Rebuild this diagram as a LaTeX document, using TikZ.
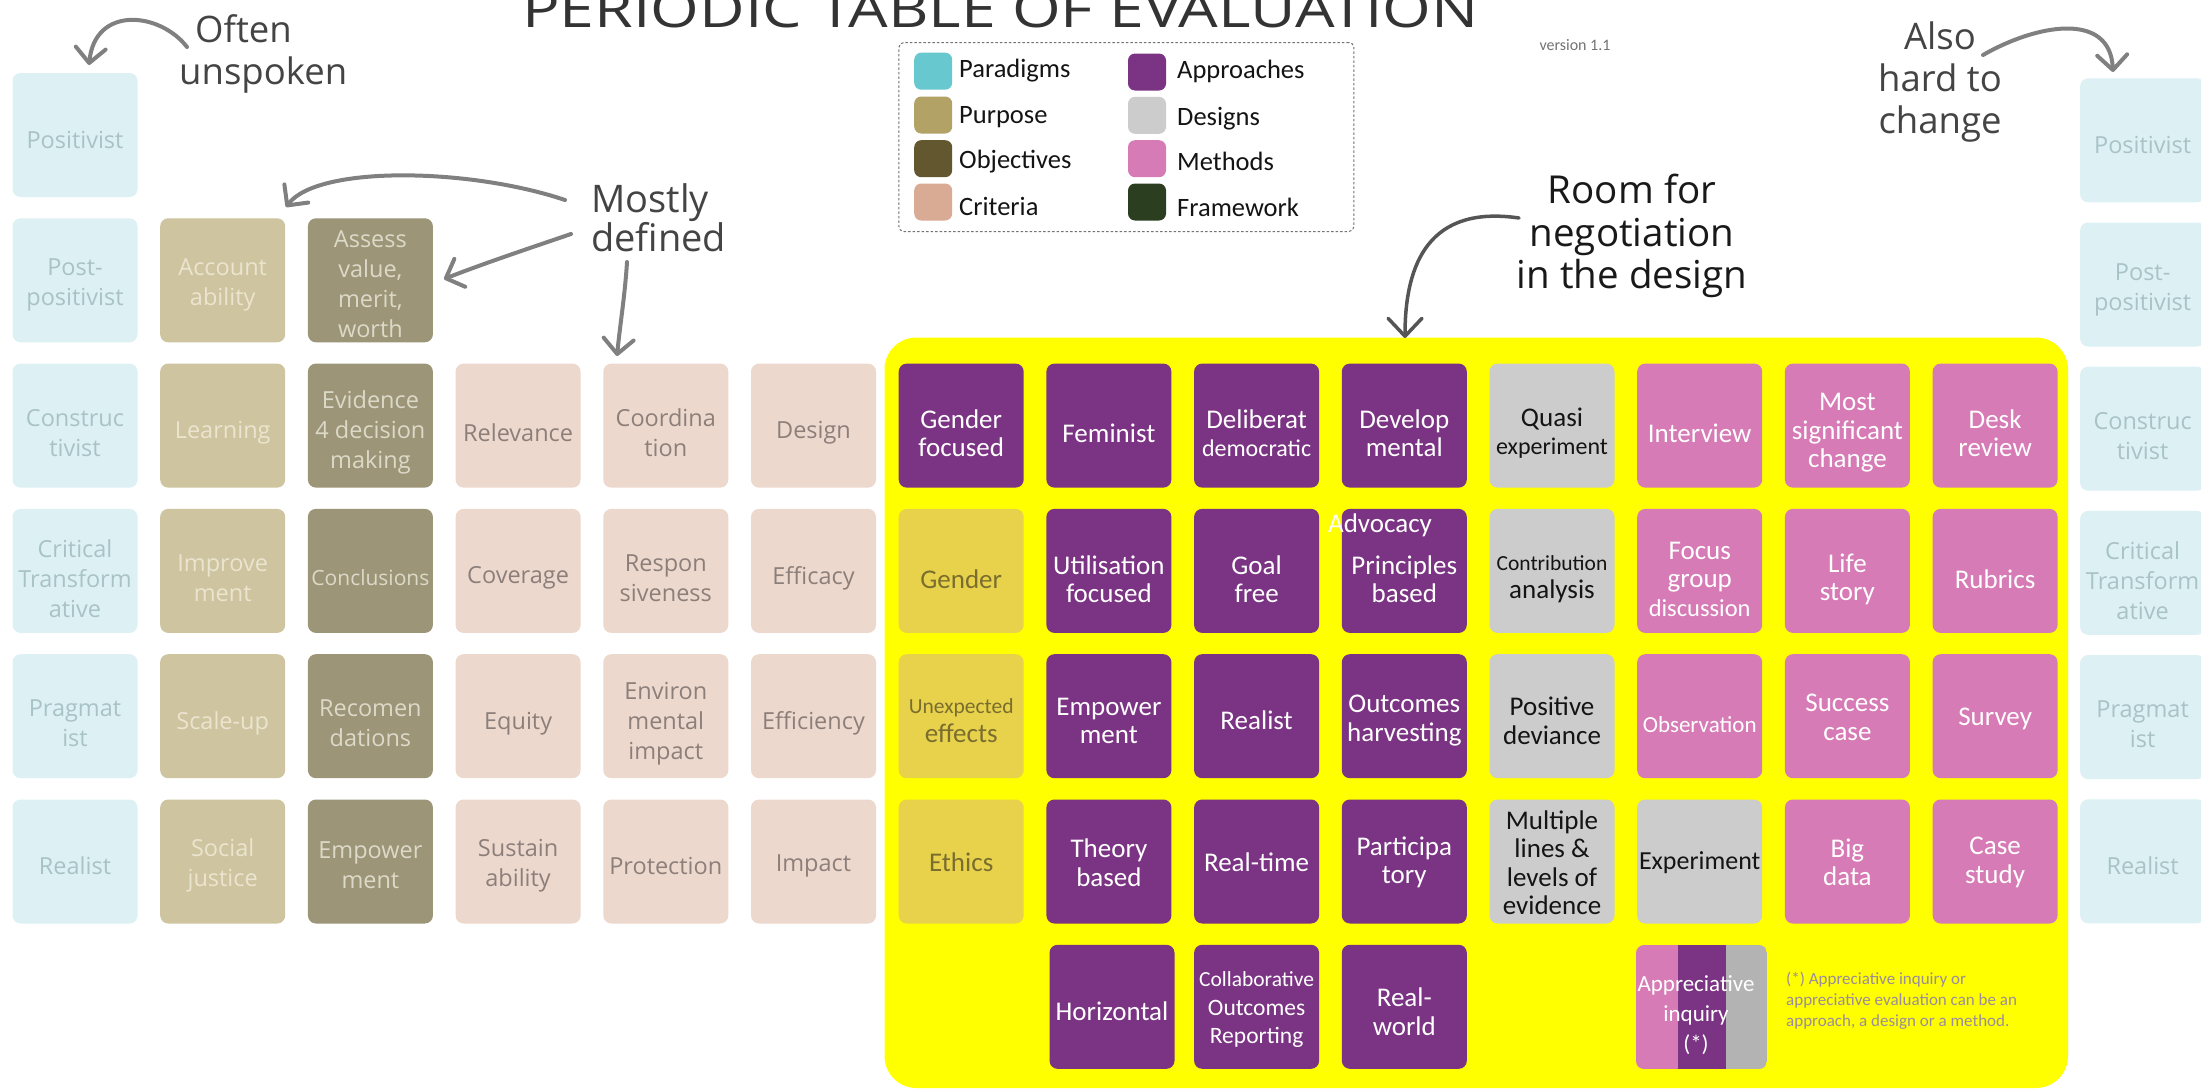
\documentclass[tikz,border=0pt]{standalone}
\usepackage{fontspec}
\usepackage{graphicx}
\setmainfont{Carlito}
\newfontfamily\osans{Open Sans}
\usetikzlibrary{arrows.meta}
\definecolor{cParaF}{HTML}{DDF1F4}
\definecolor{cParaT}{HTML}{A9C2C6}
\definecolor{cPurpF}{HTML}{CEC49F}
\definecolor{cPurpT}{HTML}{EBE5D0}
\definecolor{cObjF}{HTML}{9C9577}
\definecolor{cObjT}{HTML}{DDD9C9}
\definecolor{cCritF}{HTML}{EDD8CD}
\definecolor{cCritT}{HTML}{8C7F7A}
\definecolor{cGendF}{HTML}{E8D24C}
\definecolor{cGendT}{HTML}{7A6E2F}
\definecolor{cAppr}{HTML}{7B3383}
\definecolor{cDes}{HTML}{CCCCCC}
\definecolor{cDesB}{HTML}{B3B3B3}
\definecolor{cMeth}{HTML}{D67BB5}
\definecolor{cYel}{HTML}{FFFF00}
\definecolor{lPara}{HTML}{67C8D0}
\definecolor{lPurp}{HTML}{B3A266}
\definecolor{lObj}{HTML}{62572E}
\definecolor{lCrit}{HTML}{D9AB95}
\definecolor{lFrame}{HTML}{2B3F20}
\definecolor{cArrow}{HTML}{808080}
\definecolor{cArrowD}{HTML}{555555}
\definecolor{cAnn}{HTML}{444444}
\definecolor{cNote}{HTML}{9A8C9C}
\definecolor{cTitle}{HTML}{333333}
% #1 text shift, #2 name, #3 x, #4 y, #5 style, #6 text
\newcommand\cellbox[6][-7.5pt]{%
  \node[#5] (#2) at (#3,#4) {};
  \node[#5T] (#2t) at ([yshift=#1]#2.center) {#6};}
\newcommand\fs[1]{\fontsize{#1}{28.5}\selectfont}
\begin{document}
\begin{tikzpicture}[x=1pt,y=-1pt,
  cell/.style={rounded corners=8pt, minimum width=125pt, minimum height=124pt, inner sep=0pt, draw=none},
  ltxt/.style={font=\osans\fontsize{23.5}{30}\selectfont, align=center, inner sep=0pt},
  rtxt/.style={font=\fontsize{27}{28.5}\selectfont, align=center, inner sep=0pt},
  para/.style={cell, fill=cParaF}, paraT/.style={ltxt, text=cParaT},
  purp/.style={cell, fill=cPurpF}, purpT/.style={ltxt, text=cPurpT},
  obj/.style={cell, fill=cObjF},   objT/.style={ltxt, text=cObjT},
  crit/.style={cell, fill=cCritF}, critT/.style={ltxt, text=cCritT},
  gend/.style={cell, fill=cGendF}, gendT/.style={rtxt, text=cGendT},
  appr/.style={cell, fill=cAppr},  apprT/.style={rtxt, text=white},
  des/.style={cell, fill=cDes},    desT/.style={rtxt, text=black!92},
  meth/.style={cell, fill=cMeth},  methT/.style={rtxt, text=white},
  swatch/.style={minimum width=38pt, minimum height=37pt, rounded corners=7pt, inner sep=0pt},
  legtxt/.style={font=\fontsize{26.5}{30}\selectfont, anchor=base west, inner sep=0pt, text=black!92},
  ann/.style={font=\osans\fontsize{36.5}{42}\selectfont, text=cAnn, inner sep=0pt},
  garrow/.style={draw=cArrow, line width=4pt, line cap=round, -{Straight Barb[length=15pt,width=30pt,round]}},
  darrow/.style={draw=cArrowD, line width=3.5pt, line cap=round, -{Straight Barb[length=18pt,width=34pt,round]}}
]
\useasboundingbox (0,0) rectangle (2201,1090);
\fill[white] (0,0) rectangle (2201,1090);

% title and version
\node[anchor=base west, inner sep=0pt, text=cTitle] (title) at (522,27)
  {\resizebox{956pt}{37pt}{\osans PERIODIC TABLE OF EVALUATION}};
\node[font=\fontsize{16}{18}\selectfont, text=black!55, inner sep=0pt] (version) at (1575,45) {version 1.1};

% legend
\node[draw=black!55, line width=1pt, dash pattern=on 2.5pt off 2pt, rounded corners=5pt,
  minimum width=455pt, minimum height=189pt, inner sep=0pt] (legend) at (1126.4,137) {};
\node[swatch, fill=lPara] (sw1) at (933.2,71.2) {};
\node[swatch, fill=lPurp] (sw2) at (933.2,115.0) {};
\node[swatch, fill=lObj]  (sw3) at (933.2,158.7) {};
\node[swatch, fill=lCrit] (sw4) at (933.2,202.0) {};
\node[swatch, fill=cAppr] (sw5) at (1147,72.0) {};
\node[swatch, fill=cDes]  (sw6) at (1147,115.3) {};
\node[swatch, fill=cMeth] (sw7) at (1147,158.7) {};
\node[swatch, fill=lFrame] (sw8) at (1147,202.0) {};
\node[legtxt] (lb1) at (959,77.5) {Paradigms};
\node[legtxt] (lb2) at (959,123.5) {Purpose};
\node[legtxt] (lb3) at (959,168.5) {Objectives};
\node[legtxt] (lb4) at (959,215) {Criteria};
\node[legtxt] (lb5) at (1177,78.3) {Approaches};
\node[legtxt] (lb6) at (1177,125.7) {Designs};
\node[legtxt] (lb7) at (1177,170.7) {Methods};
\node[legtxt] (lb8) at (1177,216.7) {Framework};

% annotations
\node[ann, align=left, anchor=west] (often) at (179,54) {\hspace*{16pt}Often\\unspoken};
\node[ann, align=left, anchor=west, font=\osans\fontsize{38}{39}\selectfont] (mostly) at (591,218) {Mostly\\defined};
\node[ann, align=center] (also) at (1940,82) {Also\\hard to\\change};
\node[ann, align=center, text=black!90, font=\osans\fontsize{38.5}{42.5}\selectfont] (room) at (1632,236) {Room for\\negotiation\\in the design};

% yellow negotiation area
\fill[cYel, rounded corners=32pt] (884.5,337.5) rectangle (2068,1088);

% paradigms left
\cellbox[-5pt]{pL0}{75}{135}{para}{Positivist}
\cellbox[-5pt]{pL1}{75}{280.3}{para}{Post-\\positivist}
\cellbox[-7pt]{pL2}{75}{425.6}{para}{Construc\\tivist}
\cellbox[-8pt]{pL3}{75}{570.9}{para}{Critical\\Transform\\ative}
\cellbox[-7pt]{pL4}{75}{716.2}{para}{Pragmat\\ist}
\cellbox[-4pt]{pL5}{75}{861.5}{para}{Realist}
% paradigms right
\cellbox[-5pt]{pR0}{2142.6}{140.3}{para}{Positivist}
\cellbox[-5pt]{pR1}{2142.6}{284.5}{para}{Post-\\positivist}
\cellbox[-7pt]{pR2}{2142.6}{428.7}{para}{Construc\\tivist}
\cellbox[-8pt]{pR3}{2142.6}{572.9}{para}{Critical\\Transform\\ative}
\cellbox[-7pt]{pR4}{2142.6}{717.1}{para}{Pragmat\\ist}
\cellbox[-4pt]{pR5}{2142.6}{861.3}{para}{Realist}

% purpose
\cellbox[-5pt]{pu1}{222.7}{280.3}{purp}{Account\\ability}
\cellbox[-7pt]{pu2}{222.7}{425.6}{purp}{Learning}
\cellbox[-7pt]{pu3}{222.7}{570.9}{purp}{Improve\\ment}
\cellbox[-7pt]{pu4}{222.7}{716.2}{purp}{Scale-up}
\cellbox[-4pt]{pu5}{222.7}{861.5}{purp}{Social\\justice}

% objectives
\cellbox[-4pt]{ob1}{370.4}{280.3}{obj}{Assess\\value,\\merit,\\worth}
\cellbox[-7pt]{ob2}{370.4}{425.6}{obj}{Evidence\\4 decision\\making}
\cellbox[-7pt]{ob3}{370.4}{570.9}{obj}{{\fontsize{21}{30}\selectfont Conclusions}}
\cellbox[-7pt]{ob4}{370.4}{716.2}{obj}{Recomen\\dations}
\cellbox[-4pt]{ob5}{370.4}{861.5}{obj}{Empower\\ment}

% criteria
\cellbox[-7pt]{cr1}{518.1}{425.6}{crit}{Relevance}
\cellbox[-7pt]{cr2}{518.1}{570.9}{crit}{Coverage}
\cellbox[-7pt]{cr3}{518.1}{716.2}{crit}{Equity}
\cellbox[-4pt]{cr4}{518.1}{861.5}{crit}{Sustain\\ability}
\cellbox[-7pt]{cr5}{665.8}{425.6}{crit}{Coordina\\tion}
\cellbox[-7pt]{cr6}{665.8}{570.9}{crit}{Respon\\siveness}
\cellbox[-7pt]{cr7}{665.8}{716.2}{crit}{Environ\\mental\\impact}
\cellbox[-4pt]{cr8}{665.8}{861.5}{crit}{Protection}
\cellbox[-7pt]{cr9}{813.5}{425.6}{crit}{Design}
\cellbox[-7pt]{cr10}{813.5}{570.9}{crit}{Efficacy}
\cellbox[-7pt]{cr11}{813.5}{716.2}{crit}{Efficiency}
\cellbox[-4pt]{cr12}{813.5}{861.5}{crit}{Impact}

% column 6
\cellbox{ap1}{961.2}{425.6}{appr}{Gender\\focused}
\cellbox[-8.5pt]{ge1}{961.2}{570.9}{gend}{Gender}
\cellbox[-4.5pt]{ge2}{961.2}{716.2}{gend}{{\fs{21.5}Unexpected}\\effects}
\cellbox[-1pt]{ge3}{961.2}{861.5}{gend}{Ethics}
% column 7
\cellbox{ap2}{1108.9}{425.6}{appr}{Feminist}
\cellbox[-8.5pt]{ap3}{1108.9}{570.9}{appr}{Utilisation\\focused}
\cellbox[-4.5pt]{ap4}{1108.9}{716.2}{appr}{Empower\\ment}
\cellbox[-1pt]{ap5}{1108.9}{861.5}{appr}{Theory\\based}
\cellbox[-4.5pt]{ap6}{1112}{1006.8}{appr}{Horizontal}
% column 8
\cellbox{ap7}{1256.6}{425.6}{appr}{Deliberat\\{\fs{24}democratic}}
\cellbox[-8.5pt]{ap8}{1256.6}{570.9}{appr}{Goal\\free}
\cellbox[-4.5pt]{ap9}{1256.6}{716.2}{appr}{Realist}
\cellbox[-1pt]{ap10}{1256.6}{861.5}{appr}{Real-time}
\cellbox[-3pt]{ap11}{1256.6}{1006.8}{appr}{{\fs{21.5}Collaborative}\\{\fs{23.5}Outcomes}\\{\fs{23.5}Reporting}}
% column 9
\cellbox{ap12}{1404.3}{425.6}{appr}{Develop\\mental}
\cellbox[-8.5pt]{ap13}{1404.3}{570.9}{appr}{Principles\\based}
\node[apprT] (advocacy) at (1380,525) {Advocacy};
\cellbox[-4.5pt]{ap14}{1404.3}{716.2}{appr}{Outcomes\\harvesting}
\cellbox[-1pt]{ap15}{1404.3}{861.5}{appr}{Participa\\tory}
\cellbox[-5pt]{ap16}{1404.3}{1006.8}{appr}{Real-\\world}
% column 10 designs
\cellbox{de1}{1552}{425.6}{des}{Quasi\\{\fs{24}experiment}}
\cellbox[-8.5pt]{de2}{1552}{570.9}{des}{{\fs{21.5}Contribution}\\analysis}
\cellbox[-4.5pt]{de3}{1552}{716.2}{des}{Positive\\deviance}
\cellbox[-1pt]{de4}{1552}{861.5}{des}{Multiple\\lines \&\\levels of\\evidence}
% column 11
\cellbox{me1}{1699.7}{425.6}{meth}{Interview}
\cellbox[-8.5pt]{me2}{1699.7}{570.9}{meth}{Focus\\group\\{\fs{24.5}discussion}}
\cellbox[-8pt]{me3}{1699.7}{716.2}{meth}{{\fs{23}Observation}}
\cellbox[-1pt]{de5}{1699.7}{861.5}{des}{{\fs{26}Experiment}}
% column 12
\cellbox{me4}{1847.4}{425.6}{meth}{Most\\significant\\change}
\cellbox[-8.5pt]{me5}{1847.4}{570.9}{meth}{Life\\story}
\cellbox[-1pt]{me6}{1847.4}{716.2}{meth}{Success\\case}
\cellbox[-1pt]{me7}{1847.4}{861.5}{meth}{Big\\data}
% column 13
\cellbox{me8}{1995.1}{425.6}{meth}{Desk\\review}
\cellbox[-8.5pt]{me9}{1995.1}{570.9}{meth}{Rubrics}
\cellbox[-3pt]{me10}{1995.1}{716.2}{meth}{Survey}
\cellbox[-1pt]{me11}{1995.1}{861.5}{meth}{Case\\study}

% appreciative inquiry (approach / design / method)
\begin{scope}
  \clip[rounded corners=8pt] (1636,945) rectangle (1767,1069);
  \fill[cMeth] (1636,945) rectangle (1679,1069);
  \fill[cAppr] (1678,945) rectangle (1727,1069);
  \fill[cDesB] (1726,945) rectangle (1767,1069);
\end{scope}
\node[rtxt, text=white, font=\fontsize{23}{30}\selectfont] (apprinq) at (1696,1015) {Appreciative\\inquiry\\(*)};
\node[font=\fontsize{17}{21}\selectfont, text=cNote, align=left, anchor=north west, inner sep=0pt] (note) at (1786,972)
  {(*) Appreciative inquiry or\\appreciative evaluation can be an\\approach, a design or a method.};

% arrows
\coordinate (a1s) at (187,47);   \coordinate (a1e) at (89,65);
\coordinate (a2s) at (1983,55);  \coordinate (a2e) at (2113,72);
\coordinate (a3s) at (565,200);  \coordinate (a3e) at (286,207);
\coordinate (a4s) at (571,234);  \coordinate (a4e) at (444,279);
\coordinate (a5s) at (627,262);  \coordinate (a5e) at (617,356);
\coordinate (a6s) at (1519,218); \coordinate (a6e) at (1405,338);
\draw[garrow] (a1s) .. controls (160,12) and (95,5) .. (a1e);
\draw[garrow] (a2s) .. controls (2035,25) and (2110,10) .. (a2e);
\draw[garrow] (a3s) .. controls (470,168) and (318,165) .. (a3e);
\draw[garrow] (a4s) .. controls (530,248) and (485,263) .. (a4e);
\draw[garrow] (a5s) .. controls (625,295) and (620,325) .. (a5e);
\draw[darrow] (a6s) .. controls (1430,205) and (1405,262) .. (a6e);
\end{tikzpicture}
\end{document}
